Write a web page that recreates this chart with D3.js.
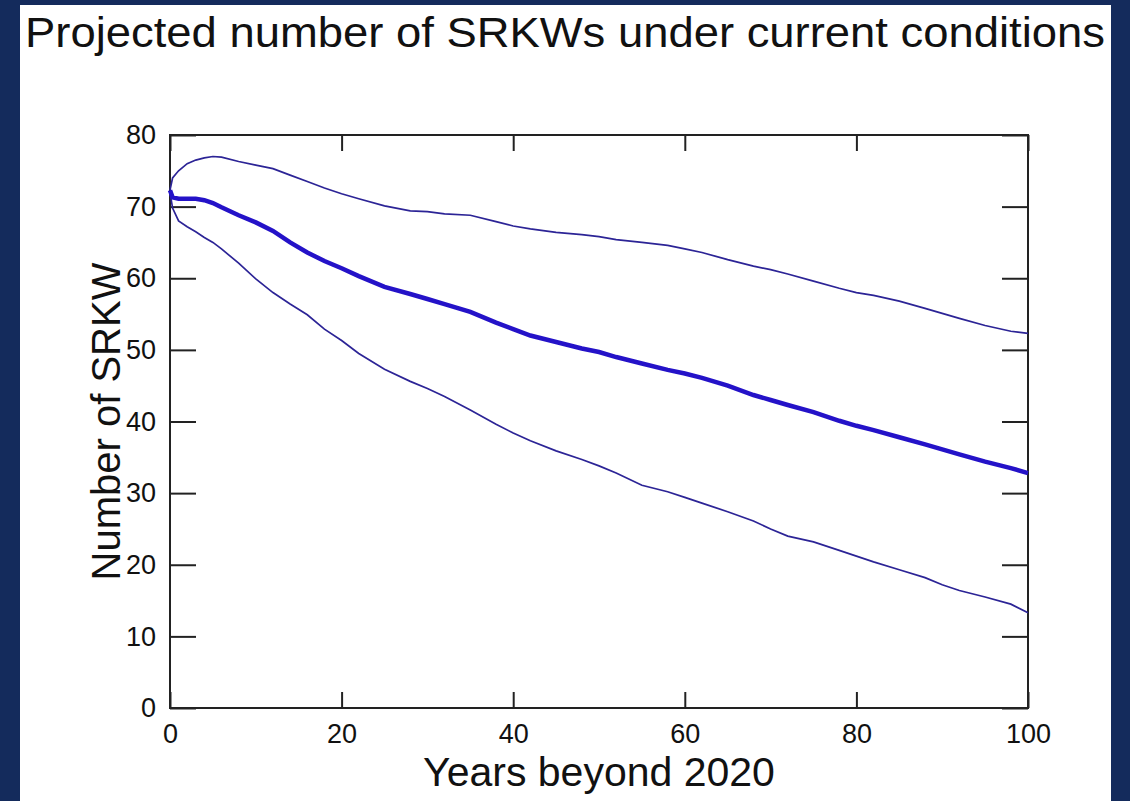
<!DOCTYPE html>
<html>
<head>
<meta charset="utf-8">
<script src="https://cdn.jsdelivr.net/npm/d3@7"></script>
<style>
  body { margin: 0; background: #142b5c; }
  svg { display: block; }
  text { font-family: "Liberation Sans", Arial, sans-serif; fill: #111; }
</style>
</head>
<body>
<div id="paper"></div>
<script>
// years beyond 2020 and projected counts
var years = [0, 0.3, 1, 2, 3, 4, 5, 6, 8, 10, 12, 14, 16, 18, 20, 22, 25, 28, 30, 32, 35, 38, 40, 42, 45, 48, 50, 52, 55, 58, 60, 62, 65, 68, 70, 72, 75, 78, 80, 82, 85, 88, 90, 92, 95, 98, 100];

var upper = [72.3, 74.0, 75.0, 76.0, 76.5, 76.8, 77.0, 76.9, 76.3, 75.8, 75.3, 74.4, 73.5, 72.6, 71.8, 71.1, 70.1, 69.4, 69.3, 69.0, 68.8, 67.9, 67.3, 66.9, 66.4, 66.1, 65.8, 65.4, 65.0, 64.6, 64.1, 63.6, 62.6, 61.7, 61.2, 60.6, 59.6, 58.6, 58.0, 57.6, 56.8, 55.8, 55.1, 54.4, 53.4, 52.6, 52.3];

var median = [72.3, 71.3, 71.1, 71.1, 71.1, 70.9, 70.5, 69.9, 68.8, 67.8, 66.6, 65.0, 63.6, 62.4, 61.4, 60.3, 58.8, 57.8, 57.1, 56.4, 55.3, 53.8, 52.9, 52.0, 51.1, 50.2, 49.7, 49.0, 48.1, 47.2, 46.7, 46.1, 45.0, 43.7, 43.0, 42.3, 41.3, 40.1, 39.4, 38.8, 37.8, 36.8, 36.1, 35.4, 34.4, 33.5, 32.8];

var lower = [72.0, 69.8, 68.0, 67.2, 66.5, 65.7, 65.0, 64.1, 62.1, 59.9, 58.0, 56.4, 54.9, 52.9, 51.3, 49.5, 47.3, 45.6, 44.6, 43.5, 41.6, 39.6, 38.4, 37.3, 35.9, 34.7, 33.8, 32.8, 31.1, 30.2, 29.4, 28.6, 27.4, 26.1, 25.0, 24.0, 23.2, 22.0, 21.2, 20.4, 19.3, 18.2, 17.2, 16.4, 15.5, 14.5, 13.3];

var xTicks = [0, 20, 40, 60, 80, 100];
var yTicks = [0, 10, 20, 30, 40, 50, 60, 70, 80];

var width = 1130,
    height = 801;

var plotL = 170, plotR = 1028, plotT = 135, plotB = 708;

var svg = d3.select("#paper").append("svg")
    .attr("width", width)
    .attr("height", height)

// white panel
svg.append("rect")
    .attr("x", 20).attr("y", 5)
    .attr("width", 1091).attr("height", 796)
    .attr("fill", "#fff");

svg.append("text")
    .attr("x", 25).attr("y", 47)
    .attr("font-size", 42)
    .attr("textLength", 1080)
    .attr("lengthAdjust", "spacingAndGlyphs")
    .text("Projected number of SRKWs under current conditions");

var x = d3.scaleLinear().domain([0, 100]).range([plotL, plotR]);
var y = d3.scaleLinear().domain([0, 80]).range([plotB, plotT]);

var styleAxis = function(g){
  g.selectAll(".domain").remove();
  g.selectAll("line").attr("stroke", "#222").attr("stroke-width", 2);
  g.attr("font-size", 27).attr("font-family", "Liberation Sans, Arial, sans-serif");
  g.selectAll("text").attr("fill", "#222");
};

svg.append("g").attr("transform", "translate(0," + plotB + ")")
    .call(d3.axisBottom(x).tickValues(xTicks).tickSize(-16).tickSizeOuter(0).tickPadding(16))
    .call(styleAxis);
svg.append("g").attr("transform", "translate(0," + plotT + ")")
    .call(d3.axisTop(x).tickValues(xTicks).tickSize(-16).tickSizeOuter(0).tickFormat(""))
    .call(styleAxis);
svg.append("g").attr("transform", "translate(" + plotL + ",0)")
    .call(d3.axisLeft(y).tickValues(yTicks).tickSize(-26).tickSizeOuter(0).tickPadding(14))
    .call(styleAxis);
svg.append("g").attr("transform", "translate(" + plotR + ",0)")
    .call(d3.axisRight(y).tickValues(yTicks).tickSize(-26).tickSizeOuter(0).tickFormat(""))
    .call(styleAxis);

// frame
svg.append("rect")
    .attr("x", plotL).attr("y", plotT)
    .attr("width", plotR - plotL).attr("height", plotB - plotT)
    .attr("fill", "none").attr("stroke", "#222").attr("stroke-width", 2);

var line = d3.line()
    .x(function(d, i) { return x(years[i]); })
    .y(function(d) { return y(d); });

svg.append("path").datum(upper)
    .attr("d", line).attr("fill", "none")
    .attr("stroke", "#2c2496").attr("stroke-width", 1.7);
svg.append("path").datum(lower)
    .attr("d", line).attr("fill", "none")
    .attr("stroke", "#2c2496").attr("stroke-width", 1.7);
svg.append("path").datum(median)
    .attr("d", line).attr("fill", "none")
    .attr("stroke", "#2412c8").attr("stroke-width", 4.5);

svg.append("text")
    .attr("x", (plotL + plotR) / 2).attr("y", 786)
    .attr("text-anchor", "middle")
    .attr("font-size", 41)
    .text("Years beyond 2020");

svg.append("text")
    .attr("transform", "translate(120," + (plotT + plotB) / 2 + ") rotate(-90)")
    .attr("text-anchor", "middle")
    .attr("font-size", 40)
    .text("Number of SRKW");
</script>
</body>
</html>
